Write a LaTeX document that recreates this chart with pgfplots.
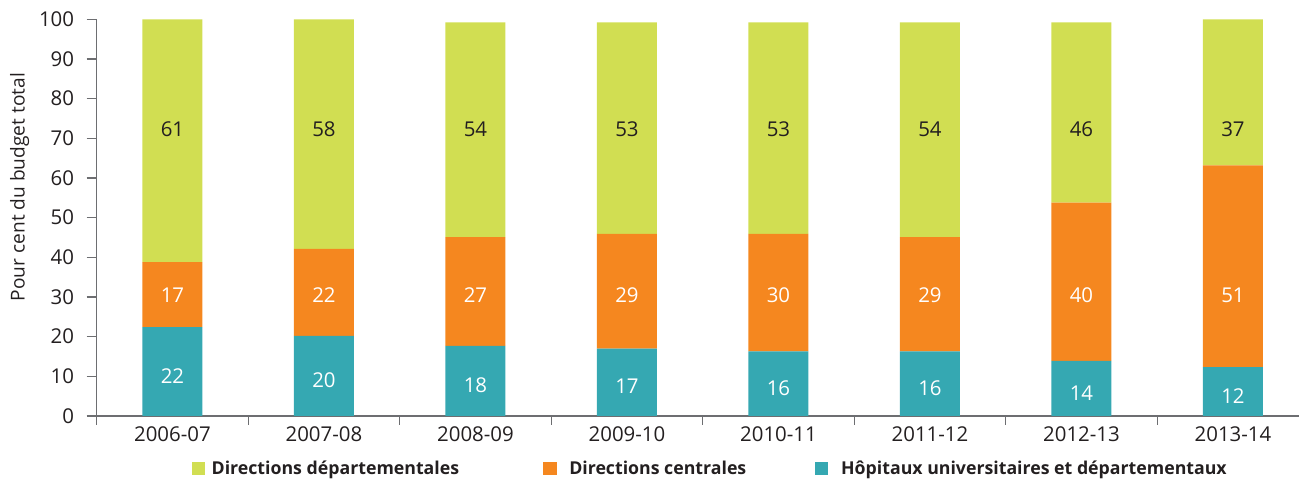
\documentclass[border=0pt]{standalone}
\usepackage{fontspec}
\setmainfont{Open Sans}
\usepackage{pgfplots}
\pgfplotsset{compat=1.18}
\usepackage{pgfplotstable}

\definecolor{cgreen}{HTML}{D1DE52}
\definecolor{corange}{HTML}{F5871F}
\definecolor{cteal}{HTML}{35A8B2}
\definecolor{ctext}{HTML}{231F20}
\definecolor{caxis}{HTML}{6D6E71}

\pgfplotstableread{
x teal orange green
0 22.4 16.4 61.2
1 20.2 21.9 57.9
2 17.7 27.4 54.1
3 17.0 28.9 53.3
4 16.3 29.6 53.3
5 16.3 28.8 54.1
6 13.9 39.9 45.4
7 12.3 50.9 36.8
}\budget

\pgfplotstableread{
x yteal lteal yorange lorange ygreen lgreen
0 10.0 22 30.4 17 72.4 61
1 9.1 20 30.4 22 72.4 58
2 7.8 18 30.4 27 72.4 54
3 7.4 17 30.4 29 72.4 53
4 6.9 16 30.4 30 72.4 53
5 6.9 16 30.4 29 72.4 54
6 5.7 14 30.4 40 72.4 46
7 4.9 12 30.4 51 72.4 37
}\labels

\pgfplotsset{
  common/.style={
    scale only axis, width=1202.3bp, height=396.7bp,
    at={(0,0)}, anchor=south west,
    xmin=-0.5, xmax=7.436, ymin=0, ymax=100,
  },
}

\begin{document}
\begin{tikzpicture}
\path[use as bounding box] (-96.7bp,-63bp) rectangle (1202.3bp,416bp);
\begin{axis}[
  common,
  ybar stacked, bar width=60bp,
  axis lines*=left,
  axis line style={caxis, line width=1.2bp},
  every tick/.style={caxis, line width=1.2bp},
  tick align=outside,
  /pgf/number format/assume math mode=true,
  xtick={0,...,7},
  xticklabels={2006-07,2007-08,2008-09,2009-10,2010-11,2011-12,2012-13,2013-14},
  major x tick style={draw=none},
  minor xtick={-0.5,0.5,...,6.5},
  major tick length=10bp,
  minor tick length=8.5bp,
  ytick={0,10,...,100},
  tick label style={font=\fontsize{20.5}{24}\selectfont, text=ctext},
  yticklabel style={inner sep=0pt, anchor=east, xshift=-12.4bp},
  xticklabel style={inner sep=0pt, anchor=north},
  ylabel={Pour cent du budget total},
  ylabel style={at={(axis description cs:-0.064,0.577)}, anchor=center,
    font=\fontsize{19.2}{23}\selectfont, text=ctext},
  legend columns=3,
  legend style={draw=none, fill=none, inner sep=0pt, outer sep=0pt,
    column sep=0pt,
    nodes={inner sep=0pt, outer sep=0pt},
    font=\fontsize{17.8}{21}\selectfont\bfseries, text=ctext,
    at={(0.079,-0.1319)}, anchor=west},
  legend image code/.code={\fill (0bp,-6.65bp) rectangle (13.3bp,6.65bp);},
]
\addlegendimage{fill=cgreen, draw=none}
\addlegendentry{\makebox[338.3bp][l]{\hspace{6.7bp}Directions départementales}}
\addlegendimage{fill=corange, draw=none}
\addlegendentry{\makebox[258.3bp][l]{\hspace{12.7bp}Directions centrales}}
\addlegendimage{fill=cteal, draw=none}
\addlegendentry{\hspace{13bp}Hôpitaux universitaires et départementaux}
\addplot[fill=cteal, draw=none, forget plot] table[x=x, y=teal]{\budget};
\addplot[fill=corange, draw=none, forget plot] table[x=x, y=orange]{\budget};
\addplot[fill=cgreen, draw=none, forget plot] table[x=x, y=green]{\budget};
\end{axis}
\begin{axis}[
  common, hide axis,
  nodes near coords, point meta=explicit symbolic,
  every node near coord/.style={anchor=center, inner sep=0pt,
    font=\fontsize{20.5}{24}\selectfont},
]
\addplot[draw=none, nodes near coords style={text=white}] table[x=x, y=yteal, meta=lteal]{\labels};
\addplot[draw=none, nodes near coords style={text=white}] table[x=x, y=yorange, meta=lorange]{\labels};
\addplot[draw=none, nodes near coords style={text=ctext}] table[x=x, y=ygreen, meta=lgreen]{\labels};
\end{axis}
\end{tikzpicture}
\end{document}
